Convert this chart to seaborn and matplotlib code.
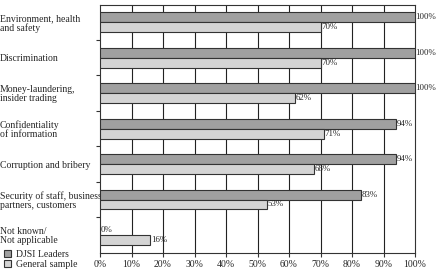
import matplotlib
matplotlib.use("Agg")
import matplotlib.pyplot as plt
import seaborn as sns
import pandas as pd
import numpy as np

categories = ["Environment, health\nand safety", "Discrimination",
              "Money-laundering,\ninsider trading", "Confidentiality\nof information",
              "Corruption and bribery", "Security of staff, business\npartners, customers",
              "Not known/\nNot applicable"]
djsi = [100, 100, 100, 94, 94, 83, 0]
general = [70, 70, 62, 71, 68, 53, 16]
series = ["DJSI Leaders", "General sample"]
xticks = [0, 10, 20, 30, 40, 50, 60, 70, 80, 90, 100]

sns.set_theme(style="white")
plt.rcParams['font.family'] = ['Liberation Serif', 'DejaVu Serif']
plt.rcParams['font.size'] = 7

df = pd.DataFrame({
    "category": categories * 2,
    "value": djsi + general,
    "series": [series[0]] * len(categories) + [series[1]] * len(categories),
})

fig = plt.figure(figsize=(4.36, 2.72), dpi=100)
ax = fig.add_axes([100/436, 1 - 252.7/272, 315/436, 248.2/272])

sns.barplot(data=df, y="category", x="value", hue="series", orient="h",
            palette=["#a0a0a0", "#d4d4d4"], width=0.56, ax=ax,
            edgecolor="#333333", linewidth=0.8, legend=True, zorder=3)

ax.set_xlim(0, 100)
ax.set_ylim(len(categories) - 0.5, -0.5)
ax.set_xticks(xticks)
ax.set_xticklabels([f"{v}%" for v in xticks], fontsize=7)
ax.set_xlabel("")
ax.set_ylabel("")

for x in xticks[1:-1]:
    ax.axvline(x, color="#222222", lw=0.8, zorder=1)

for sp in ax.spines.values():
    sp.set_color("#333333")
    sp.set_linewidth(0.8)
    sp.set_visible(True)

ax.tick_params(axis="x", which="major", length=3, width=0.8, color="#333333",
               direction="out", pad=2, bottom=True)
ax.set_yticks(np.arange(len(categories)))
ax.set_yticklabels(categories, fontsize=7, linespacing=1.0)
for lab in ax.get_yticklabels():
    lab.set_horizontalalignment("left")
ax.tick_params(axis="y", which="major", length=0, pad=72)
ax.set_yticks(np.arange(len(categories) - 1) + 0.5, minor=True)
ax.tick_params(axis="y", which="minor", length=3, width=0.8, color="#333333",
               direction="out", left=True)

for cont in ax.containers:
    ax.bar_label(cont, labels=[f"{int(v)}%" for v in cont.datavalues],
                 padding=0.3, fontsize=6.4, clip_on=False)

leg = ax.get_legend()
leg.remove()
handles, labels = ax.get_legend_handles_labels()
fig.legend(handles, labels, loc="lower left", bbox_to_anchor=(0.0, -0.002),
           frameon=False, fontsize=7, handlelength=0.75, handleheight=0.75,
           handletextpad=0.5, labelspacing=0.05, borderpad=0.2, borderaxespad=0.2)

fig.savefig("out.png", dpi=100)
